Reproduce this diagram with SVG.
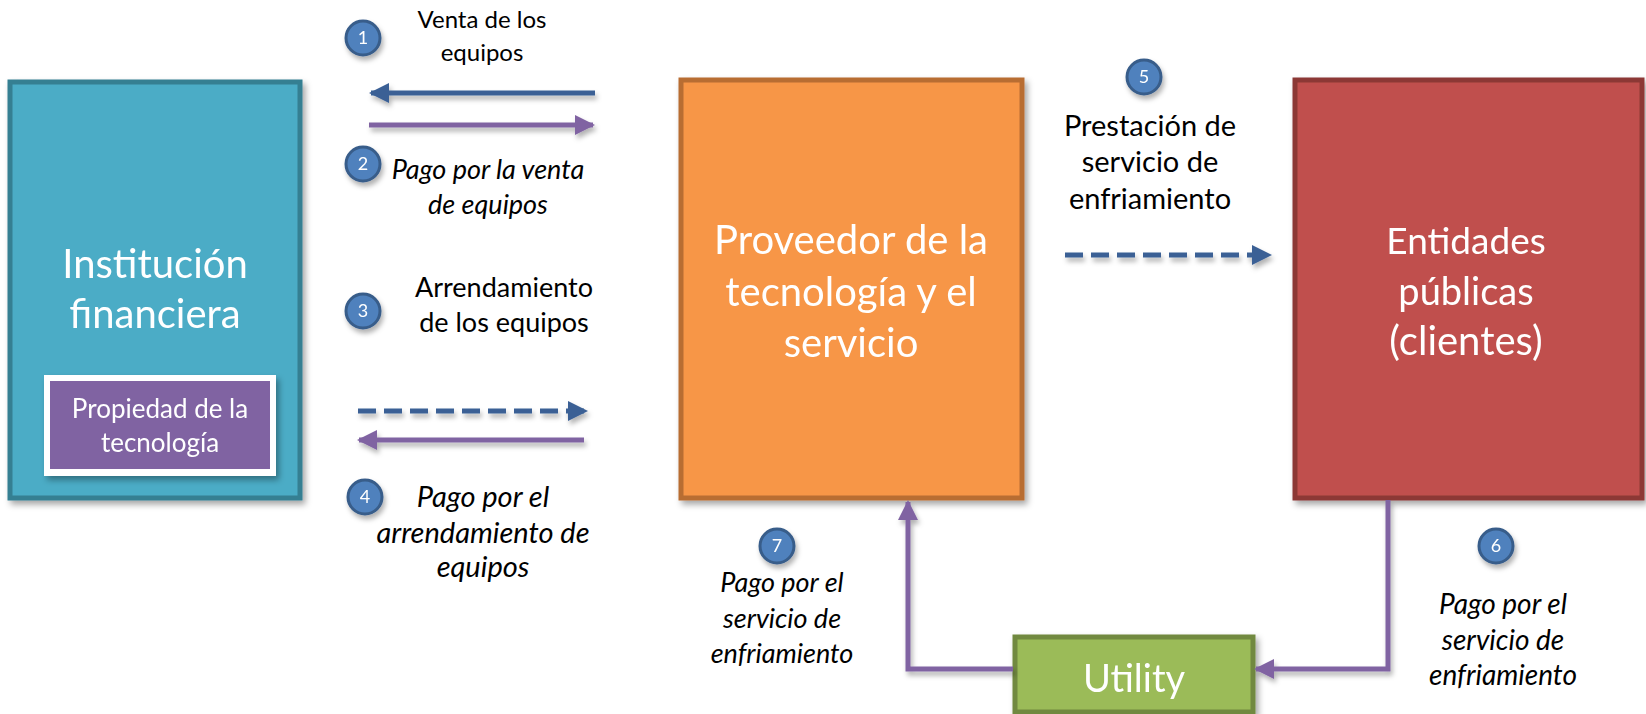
<svg xmlns="http://www.w3.org/2000/svg" width="1646" height="714" viewBox="0 0 1646 714">
<defs>
<filter id="sh" x="-10%" y="-10%" width="130%" height="130%">
<feDropShadow dx="3" dy="4" stdDeviation="3" flood-color="#000" flood-opacity="0.35"/>
</filter>
<filter id="lsh" x="-10%" y="-100%" width="130%" height="400%">
<feDropShadow dx="2" dy="4" stdDeviation="2.5" flood-color="#000" flood-opacity="0.3"/>
</filter>
<marker id="ab" viewBox="0 0 10 10" refX="9" refY="5" markerWidth="4" markerHeight="4" orient="auto" markerUnits="strokeWidth">
<path d="M0,0 L10,5 L0,10 z" fill="#3a6195"/>
</marker>
<marker id="ap" viewBox="0 0 10 10" refX="9" refY="5" markerWidth="4" markerHeight="4" orient="auto" markerUnits="strokeWidth">
<path d="M0,0 L10,5 L0,10 z" fill="#8064a2"/>
</marker>
</defs>
<style>
text{font-family:Lato,"Open Sans","Liberation Sans",sans-serif;text-anchor:middle}
.big{font-size:39px;fill:#fff}
.lab{font-size:26px;fill:#000}
.it{font-style:italic}
.num{font-size:18px;fill:#fff}
.circ{fill:#4f81bd;stroke:#385d8a;stroke-width:3}
.blue{stroke:#3a6195;stroke-width:5;fill:none;marker-end:url(#ab)}
.dash{stroke-dasharray:18 8}
.pur{stroke:#8064a2;stroke-width:5;fill:none;marker-end:url(#ap)}
</style>
<rect width="1646" height="714" fill="#fff"/>

<g id="institucion" filter="url(#sh)">
<rect x="10" y="82" width="290" height="416" fill="#4bacc6" stroke="#357f92" stroke-width="5"/>
<text class="big" x="155" y="278" style="font-size:40px">Institución</text>
<text class="big" x="155" y="328" style="font-size:40px">financiera</text>
</g>
<g id="propiedad" filter="url(#sh)">
<rect x="44" y="375" width="232" height="101" fill="#fff"/>
<rect x="50" y="381" width="220" height="88" fill="#8064a2"/>
<text x="160" y="418" style="font-size:26px;fill:#fff">Propiedad de la</text>
<text x="160" y="452" style="font-size:26px;fill:#fff">tecnología</text>
</g>
<g id="proveedor" filter="url(#sh)">
<rect x="681" y="80" width="341" height="418" fill="#f79646" stroke="#b86d32" stroke-width="5"/>
<text class="big" x="851" y="254" style="font-size:40px">Proveedor de la</text>
<text class="big" x="851" y="306" style="font-size:40px">tecnología y el</text>
<text class="big" x="851" y="357" style="font-size:40px">servicio</text>
</g>
<g id="entidades" filter="url(#sh)">
<rect x="1295" y="80" width="347" height="418" fill="#c0504d" stroke="#8c3836" stroke-width="5"/>
<text class="big" x="1466" y="254" style="font-size:37px">Entidades</text>
<text class="big" x="1466" y="305" style="font-size:38px">públicas</text>
<text class="big" x="1466" y="355" style="font-size:40px">(clientes)</text>
</g>
<g id="utility" filter="url(#sh)">
<rect x="1015" y="637" width="238" height="75" fill="#9bbb59" stroke="#71893f" stroke-width="5"/>
<text class="big" x="1134" y="692" style="font-size:38px">Utility</text>
</g>

<g id="connectors" filter="url(#lsh)">
<line class="blue" x1="595" y1="93" x2="371" y2="93"/>
<line class="pur" x1="369" y1="125" x2="593" y2="125"/>
<line class="blue dash" x1="358" y1="411" x2="586" y2="411"/>
<line class="pur" x1="584" y1="440" x2="359" y2="440"/>
<line class="blue dash" x1="1065" y1="255" x2="1270" y2="255"/>
<polyline class="pur" points="1388,500 1388,669 1256,669"/>
<polyline class="pur" points="1013,669 908,669 908,502"/>
</g>

<g id="badges" filter="url(#lsh)">
<circle class="circ" cx="363" cy="38" r="17"/><text class="num" x="363" y="44">1</text>
<circle class="circ" cx="363" cy="164" r="17"/><text class="num" x="363" y="170">2</text>
<circle class="circ" cx="363" cy="311" r="17"/><text class="num" x="363" y="317">3</text>
<circle class="circ" cx="365" cy="497" r="17"/><text class="num" x="365" y="503">4</text>
<circle class="circ" cx="1144" cy="77" r="17"/><text class="num" x="1144" y="83">5</text>
<circle class="circ" cx="1496" cy="546" r="17"/><text class="num" x="1496" y="552">6</text>
<circle class="circ" cx="777" cy="546" r="17"/><text class="num" x="777" y="552">7</text>
</g>

<g id="labels">
<text class="lab" x="482" y="28" style="font-size:24px">Venta de los</text>
<text class="lab" x="482" y="61" style="font-size:24px">equipos</text>
<text class="lab it" x="488" y="179" style="font-size:27px">Pago por la venta</text>
<text class="lab it" x="488" y="214" style="font-size:27px">de equipos</text>
<text class="lab" x="504" y="297" style="font-size:27px">Arrendamiento</text>
<text class="lab" x="504" y="332" style="font-size:27px">de los equipos</text>
<text class="lab it" x="483" y="507" style="font-size:29px">Pago por el</text>
<text class="lab it" x="483" y="543" style="font-size:29px">arrendamiento de</text>
<text class="lab it" x="483" y="577" style="font-size:29px">equipos</text>
<text class="lab" x="1150" y="136" style="font-size:29px">Prestación de</text>
<text class="lab" x="1150" y="172" style="font-size:29px">servicio de</text>
<text class="lab" x="1150" y="209" style="font-size:29px">enfriamiento</text>
<text class="lab it" x="782" y="592" style="font-size:27px">Pago por el</text>
<text class="lab it" x="782" y="628" style="font-size:27px">servicio de</text>
<text class="lab it" x="782" y="663" style="font-size:27px">enfriamiento</text>
<text class="lab it" x="1503" y="614" style="font-size:28px">Pago por el</text>
<text class="lab it" x="1503" y="650" style="font-size:28px">servicio de</text>
<text class="lab it" x="1503" y="685" style="font-size:28px">enfriamiento</text>
</g>
</svg>
